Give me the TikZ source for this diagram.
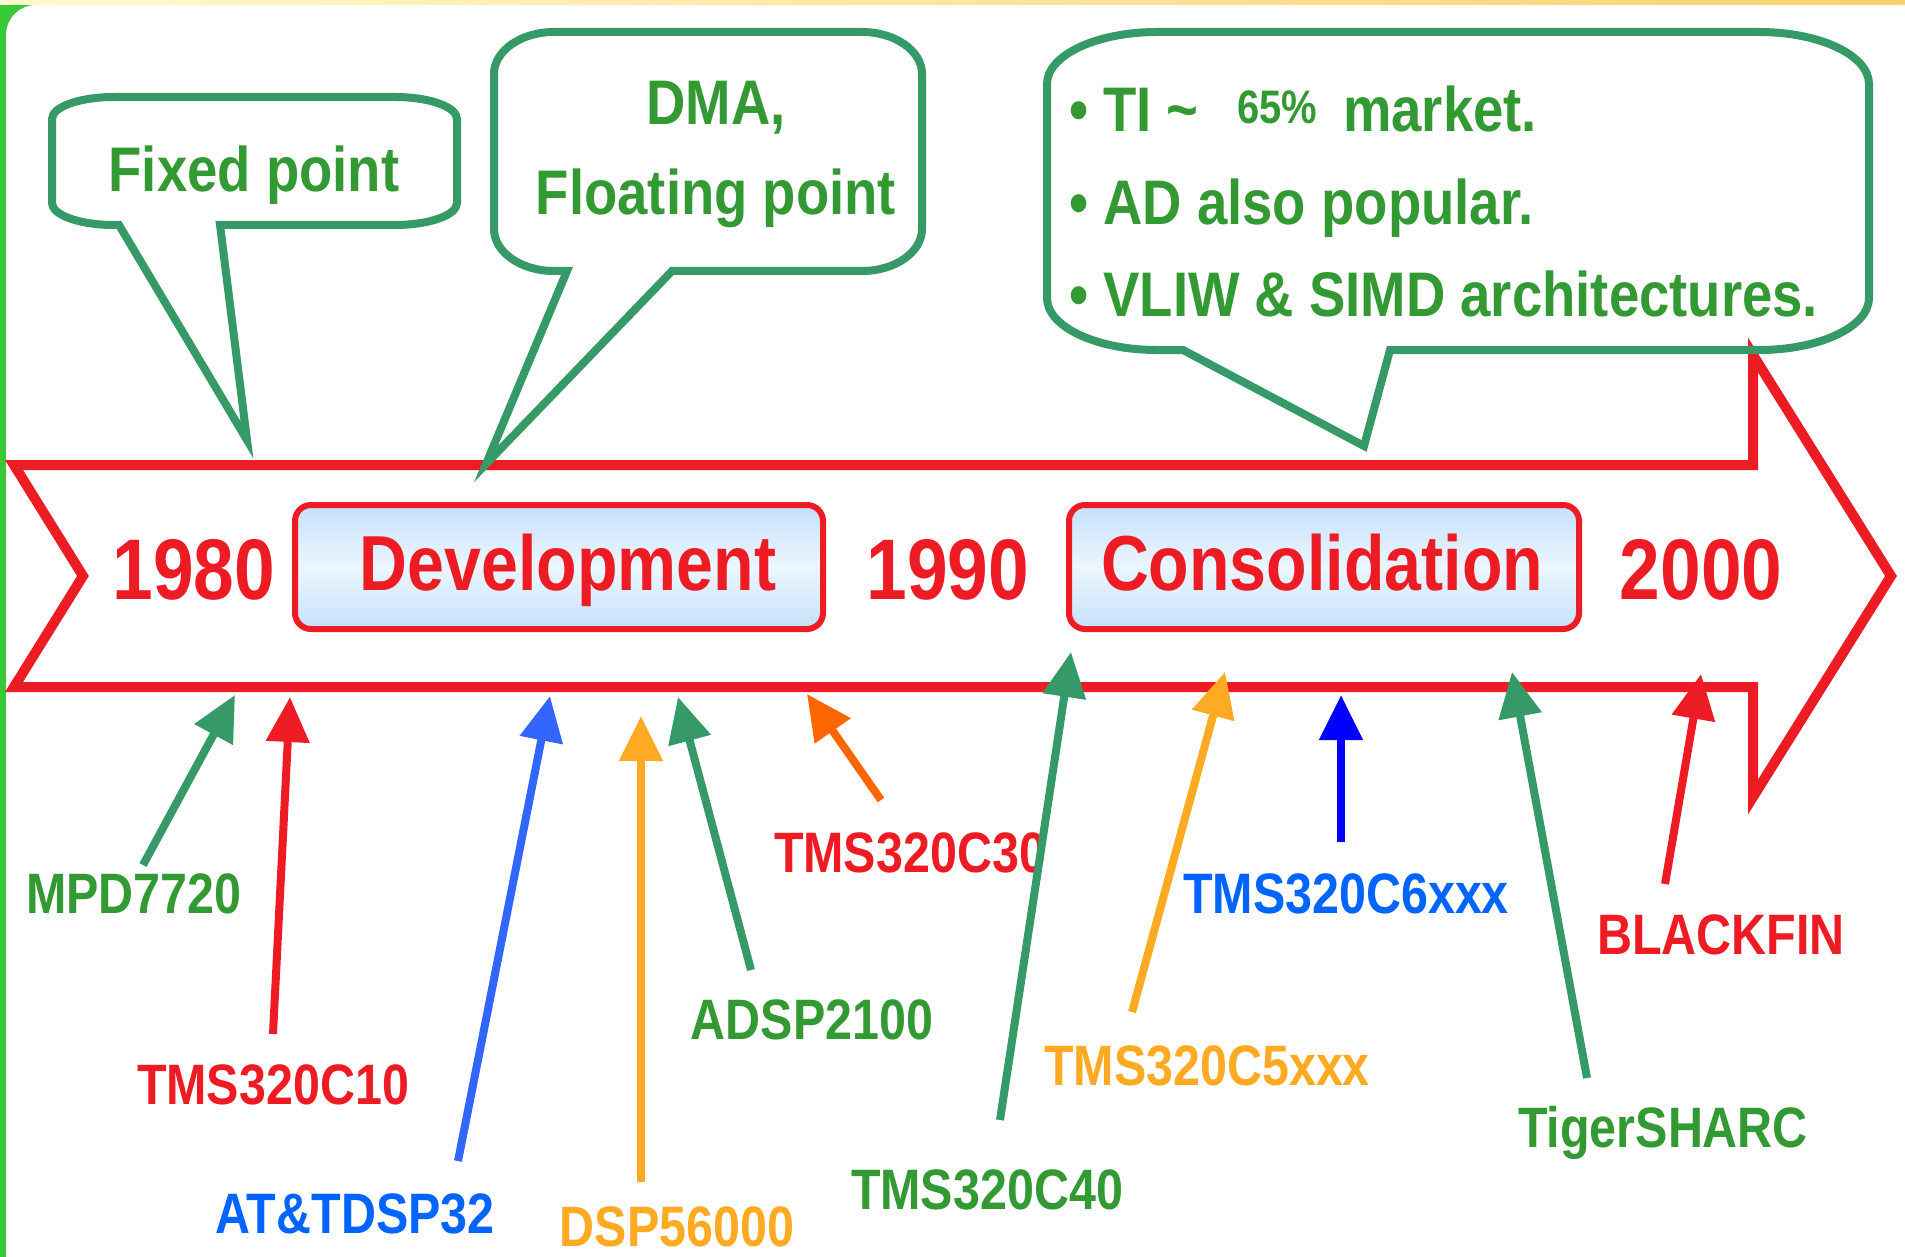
\documentclass[tikz,border=0pt]{standalone}
\usepackage{fontspec}
\newfontfamily\af{Liberation Sans}[FakeStretch=0.85]
\newfontfamily\afw{Liberation Sans}[FakeStretch=0.865]
\usetikzlibrary{arrows.meta}
\definecolor{framegreen}{RGB}{56,200,56}
\definecolor{topyelA}{RGB}{255,250,205}
\definecolor{topyelB}{RGB}{255,208,112}
\definecolor{redC}{RGB}{237,28,36}
\definecolor{greenT}{RGB}{51,153,51}
\definecolor{greenA}{RGB}{54,153,104}
\definecolor{boxblue}{RGB}{197,224,250}
\definecolor{boxlight}{RGB}{235,246,254}
\definecolor{blueL}{RGB}{0,100,255}
\definecolor{blueA}{RGB}{51,102,255}
\definecolor{blueP}{RGB}{0,0,255}
\definecolor{amber}{RGB}{255,170,34}
\definecolor{orangeA}{RGB}{255,102,0}
\newcommand\calloutpath[9]{%
  \draw[callout] (#7,#4) -- (#9) -- (#8,#4) -- ({#3-#5},#4)
    .. controls ({#3-0.4477*#5},#4) and (#3,{#4-0.4477*#6}) .. (#3,{#4-#6})
    -- (#3,{#2+#6})
    .. controls (#3,{#2+0.4477*#6}) and ({#3-0.4477*#5},#2) .. ({#3-#5},#2)
    -- ({#1+#5},#2)
    .. controls ({#1+0.4477*#5},#2) and (#1,{#2+0.4477*#6}) .. (#1,{#2+#6})
    -- (#1,{#4-#6})
    .. controls (#1,{#4-0.4477*#6}) and ({#1+0.4477*#5},#4) .. ({#1+#5},#4)
    -- cycle;}
\begin{document}
\begin{tikzpicture}[x=1pt,y=-1pt,
  callout/.style={draw=greenA, line width=8pt, line join=miter},
  periodbox/.style={draw=redC, line width=6pt, rounded corners=16pt,
    top color=boxblue, bottom color=boxblue, middle color=boxlight,
    minimum height=124pt, inner sep=0pt},
  yeartxt/.style={font=\af\bfseries\fontsize{86}{90}\selectfont, text=redC, inner sep=0pt, anchor=base},
  periodtxt/.style={font=\af\bfseries\fontsize{78}{82}\selectfont, text=redC, inner sep=0pt, anchor=base},
  calltxt/.style={font=\afw\bfseries\fontsize{63}{66}\selectfont, text=greenT, inner sep=0pt},
  lbl/.style={font=\af\bfseries\fontsize{57}{60}\selectfont, inner sep=0pt, anchor=base},
  ptr/.style={line width=8pt, -{Triangle[length=45pt,width=42pt]}}]
\useasboundingbox (0,0) rectangle (1905,1257);
% frame
\fill[framegreen] (0,0) rectangle (1905,1257);
\fill[white, rounded corners=30pt] (6,5) rectangle (1935,1300);
\shade[left color=topyelA, right color=topyelB] (0,0) rectangle (1905,5);
% big timeline arrow
\draw[redC, line width=10pt, line join=miter] (14,465) -- (1753,465) -- (1753,355)
  -- (1891,576) -- (1753,797) -- (1753,687) -- (14,687) -- (83,576) -- cycle;
% period boxes
\node[periodbox, minimum width=528pt] (dev) at (559,567) {};
\node[periodbox, minimum width=510pt] (con) at (1324,567) {};
\node[periodtxt] (devt) at (568,590) {Development};
\node[periodtxt] (cont) at (1322,590) {Consolidation};
\node[yeartxt] (y1980) at (194,599) {1980};
\node[yeartxt] (y1990) at (948,599) {1990};
\node[yeartxt] (y2000) at (1701,599) {2000};
% callouts
\coordinate (tipA) at (247,440);
\coordinate (tipB) at (486,464);
\coordinate (tipC) at (1364,446);
\calloutpath{52}{97}{457}{225}{62}{22}{119}{220}{tipA}
\calloutpath{494}{32}{922}{271}{60}{42}{567}{672}{tipB}
\calloutpath{1047}{32}{1869}{350}{110}{52}{1183}{1390}{tipC}
\node[calltxt, anchor=base] (fixed) at (254,192) {Fixed point};
\node[calltxt, anchor=base] (dma) at (716,125) {DMA,};
\node[calltxt, anchor=base] (float) at (716,215) {Floating point};
\node[calltxt, anchor=base west] (ti) at (1069,132) {• TI \textasciitilde};
\node[calltxt, anchor=base west, font=\af\bfseries\fontsize{47}{50}\selectfont] (pct) at (1237,124) {65\%};
\node[calltxt, anchor=base west] (mkt) at (1343,132) {market.};
\node[calltxt, anchor=base west] (ad) at (1069,225) {• AD also popular.};
\node[calltxt, anchor=base west] (vliw) at (1069,316) {• VLIW \& SIMD architectures.};
% labels
\node[lbl, text=greenT] (mpd) at (134,913) {MPD7720};
\node[lbl, text=redC] (c10) at (273,1104) {TMS320C10};
\node[lbl, text=blueL] (att) at (355,1233) {AT\&TDSP32};
\node[lbl, text=amber] (d56) at (677,1246) {DSP56000};
\node[lbl, text=greenT] (ad21) at (812,1039) {ADSP2100};
\node[lbl, text=redC] (c30) at (910,872) {TMS320C30};
\node[lbl, text=greenT] (c40) at (987,1209) {TMS320C40};
\node[lbl, text=amber] (c5) at (1207,1085) {TMS320C5xxx};
\node[lbl, text=blueL] (c6) at (1346,913) {TMS320C6xxx};
\node[lbl, text=greenT] (tiger) at (1663,1147) {TigerSHARC};
\node[lbl, text=redC] (bf) at (1721,954) {BLACKFIN};
% pointer coordinates
\coordinate (mpdT) at (143,865);  \coordinate (mpdH) at (235,695);
\coordinate (c10T) at (273,1034); \coordinate (c10H) at (290,697);
\coordinate (attT) at (458,1161); \coordinate (attH) at (550,696);
\coordinate (d56T) at (641,1182); \coordinate (d56H) at (641,716);
\coordinate (ad21T) at (751,970); \coordinate (ad21H) at (678,697);
\coordinate (c30T) at (881,800);  \coordinate (c30H) at (807,694);
\coordinate (c40T) at (1000,1120); \coordinate (c40H) at (1071,652);
\coordinate (c5T) at (1132,1012); \coordinate (c5H) at (1225,672);
\coordinate (c6T) at (1341,842);  \coordinate (c6H) at (1341,695);
\coordinate (tigT) at (1587,1078); \coordinate (tigH) at (1512,672);
\coordinate (bfT) at (1665,884);  \coordinate (bfH) at (1701,674);
% pointers
\draw[ptr, greenA] (mpdT) -- (mpdH);
\draw[ptr, redC] (c10T) -- (c10H);
\draw[ptr, blueA] (attT) -- (attH);
\draw[ptr, amber] (d56T) -- (d56H);
\draw[ptr, greenA] (ad21T) -- (ad21H);
\draw[ptr, orangeA] (c30T) -- (c30H);
\draw[ptr, greenA] (c40T) -- (c40H);
\draw[ptr, amber] (c5T) -- (c5H);
\draw[ptr, blueP] (c6T) -- (c6H);
\draw[ptr, greenA] (tigT) -- (tigH);
\draw[ptr, redC] (bfT) -- (bfH);
\end{tikzpicture}
\end{document}
